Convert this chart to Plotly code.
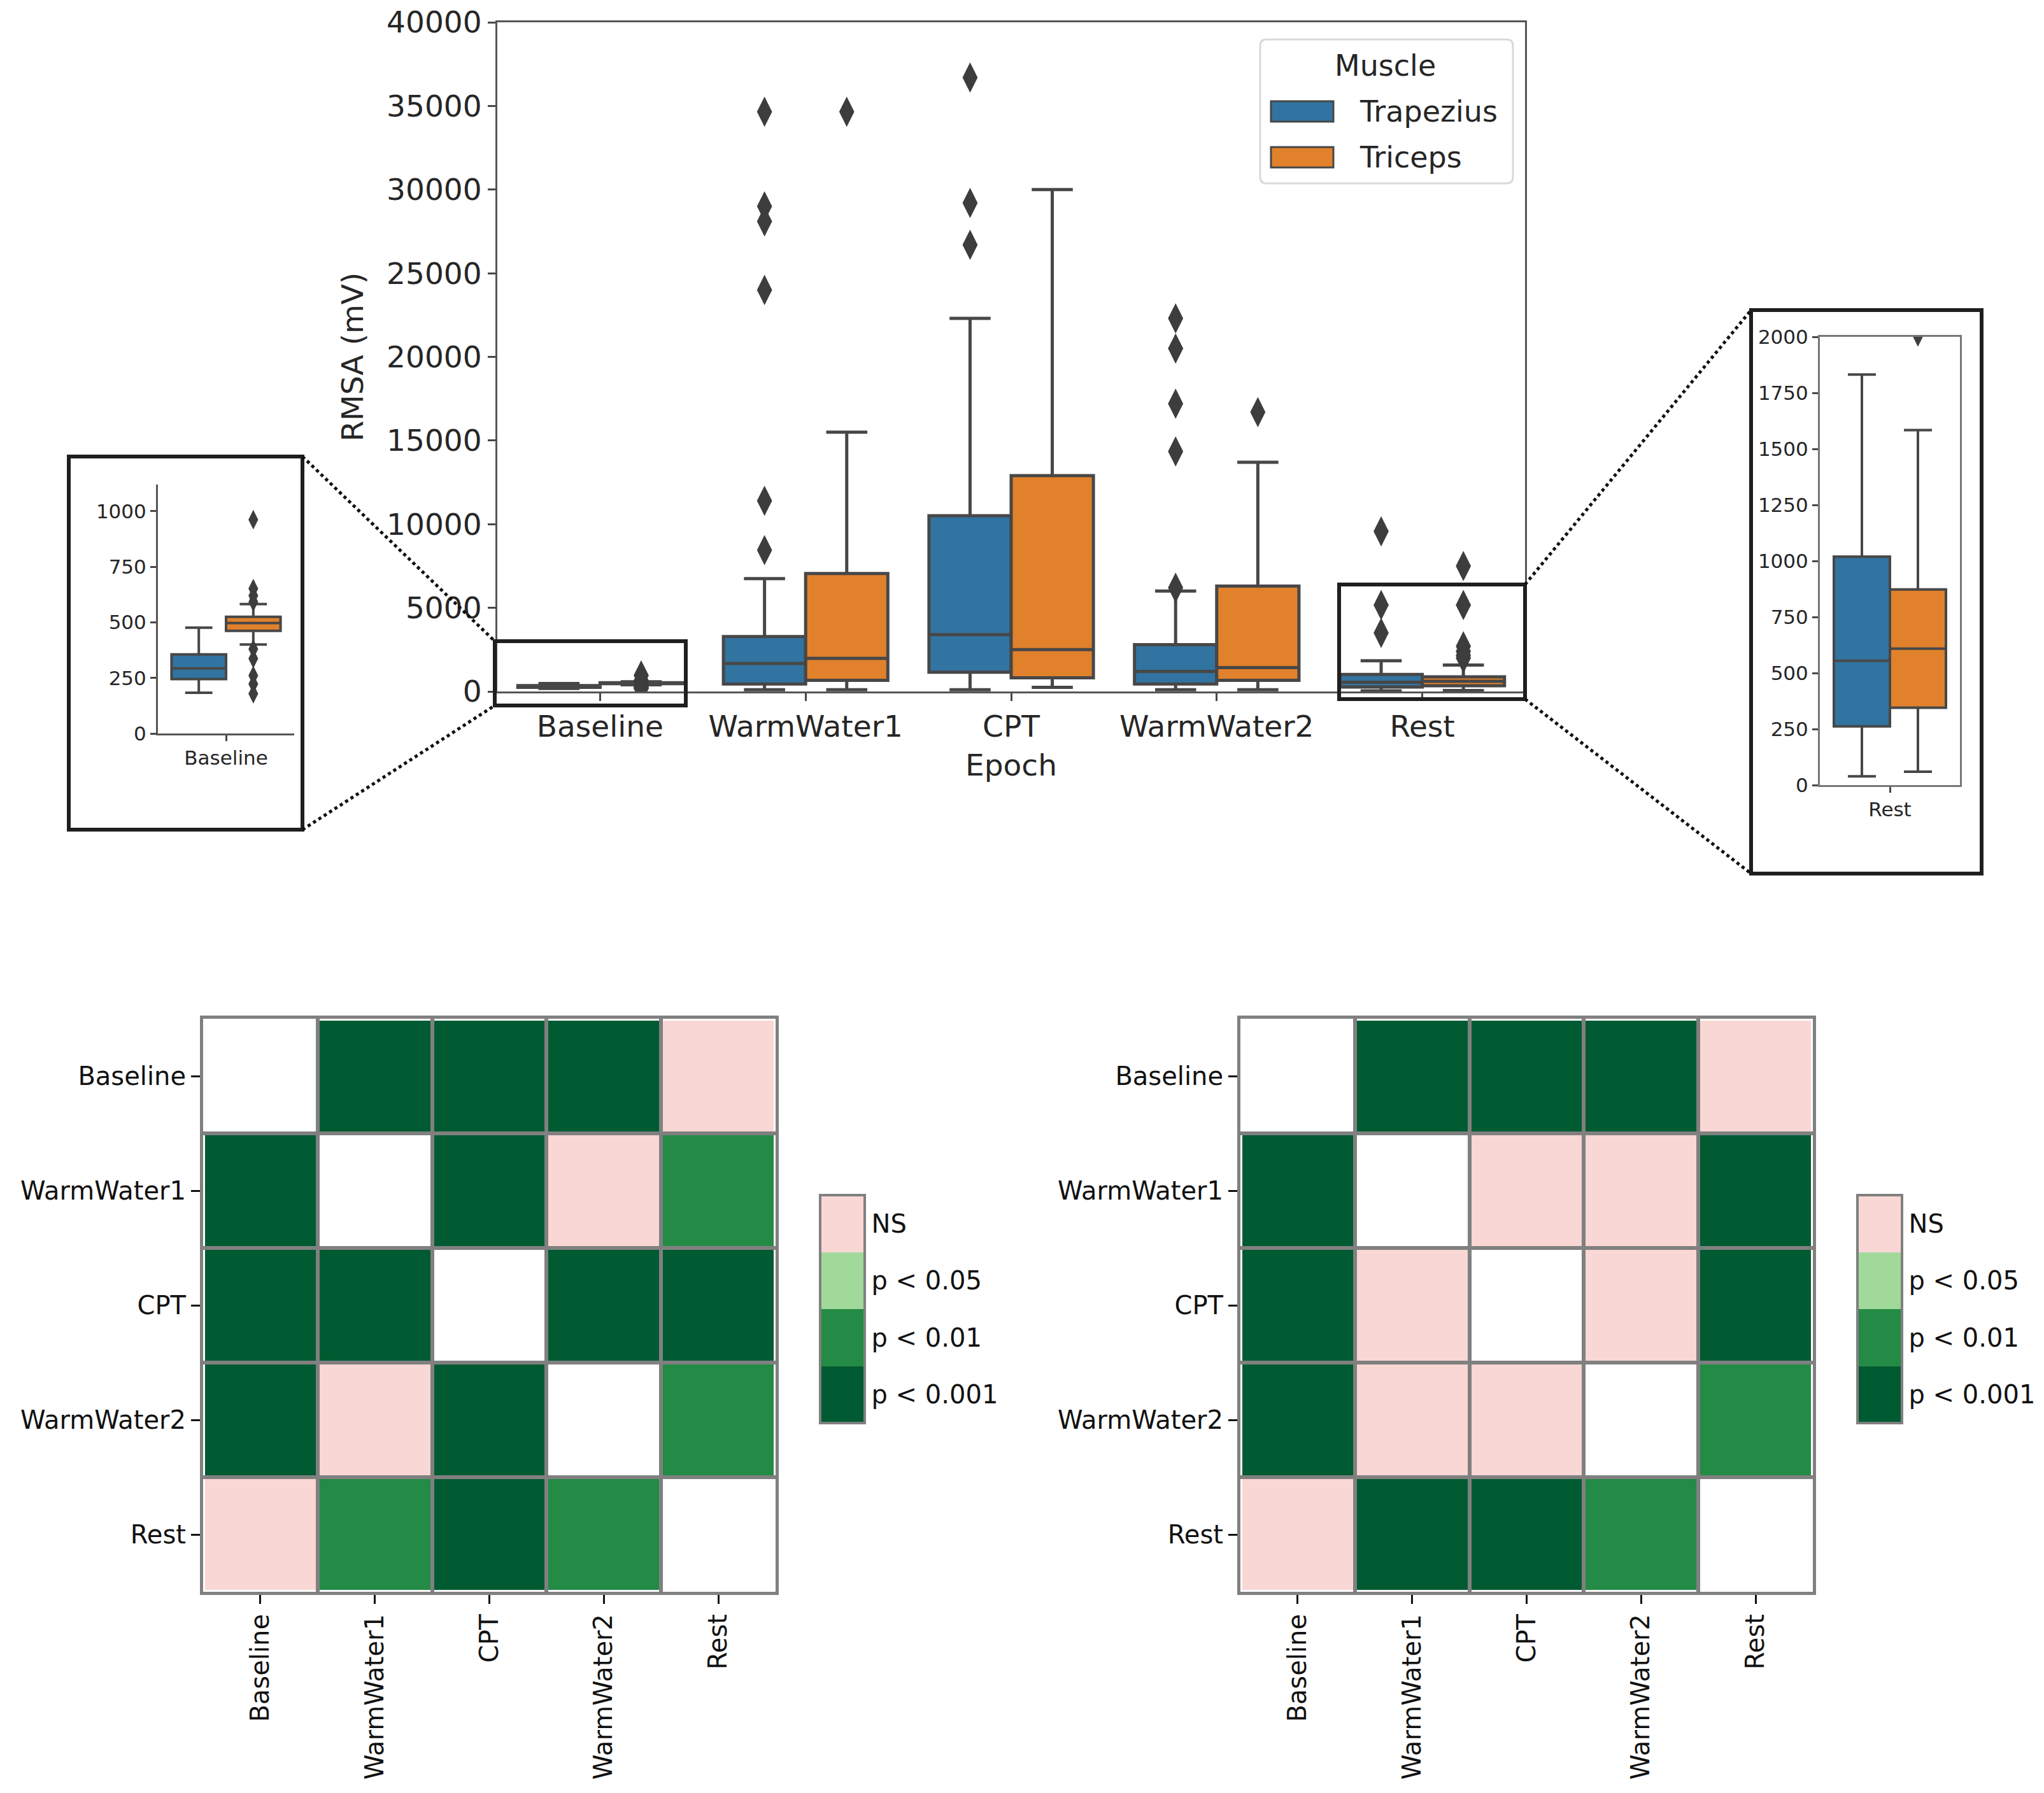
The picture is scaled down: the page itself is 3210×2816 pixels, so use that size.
import plotly.graph_objects as go

W, H = 3210, 2816
FONT = "DejaVu Sans"
TXT = "#262626"

def px(x):
    return x / W

def py(y):
    return 1 - y / H

# ---------------- data ----------------
epochs = ["Baseline", "WarmWater1", "CPT", "WarmWater2", "Rest"]
muscles = ["Trapezius", "Triceps"]

trap_q1 = [245, 450, 1150, 450, 262]
trap_med = [293, 1670, 3400, 1200, 555]
trap_q3 = [356, 3280, 10500, 2800, 1019]
trap_lo = [183, 100, 100, 100, 39]
trap_hi = [476, 6750, 22300, 6000, 1832]
trap_out = [[], [34650, 29000, 28100, 24000, 11400, 8450], [36700, 29200, 26700],
            [22300, 20500, 17200, 14350, 6200], [9570, 5170, 3500]]

tri_q1 = [462, 670, 820, 670, 345]
tri_med = [497, 1980, 2500, 1430, 609]
tri_q3 = [525, 7050, 12900, 6300, 873]
tri_lo = [400, 100, 250, 100, 60]
tri_hi = [582, 15500, 30000, 13700, 1584]
tri_out = [[962, 652, 620, 592, 380, 337, 261, 223, 179], [34650], [], [16700],
           [7500, 5170, 2700, 2400, 2150, 2000]]

main_yticks = [0, 5000, 10000, 15000, 20000, 25000, 30000, 35000, 40000]
base_yticks = [0, 250, 500, 750, 1000]
rest_yticks = [0, 250, 500, 750, 1000, 1250, 1500, 1750, 2000]

# significance codes: 0 = p<0.001, 1 = p<0.01, 2 = p<0.05, 3 = NS, None = diagonal
sig_labels = ["p < 0.001", "p < 0.01", "p < 0.05", "NS"]
sig_colors = ["#005a32", "#238b45", "#a1d99b", "#f9d7d4"]
sig_left = [[None, 0, 0, 0, 3],
            [0, None, 0, 3, 1],
            [0, 0, None, 0, 0],
            [0, 3, 0, None, 1],
            [3, 1, 0, 1, None]]
sig_right = [[None, 0, 0, 0, 3],
             [0, None, 3, 3, 0],
             [0, 3, None, 3, 0],
             [0, 3, 3, None, 1],
             [3, 0, 0, 1, None]]

# ---------------- styles ----------------
colors = ["#3274a1", "#e1812c"]
LINE = "#474747"
OUT = "#3d3d3d"
offsets = [-0.2, 0.2]

fig = go.Figure()

stats = [
    (trap_q1, trap_med, trap_q3, trap_lo, trap_hi, trap_out),
    (tri_q1, tri_med, tri_q3, tri_lo, tri_hi, tri_out),
]


def add_boxes(xa, ya, idxs, lw, msize, xcenter=None):
    for h, (q1, med, q3, lo, hi, outs) in enumerate(stats):
        xs = [(i if xcenter is None else xcenter) + offsets[h] for i in idxs]
        fig.add_trace(go.Box(
            x=xs, q1=[q1[i] for i in idxs], median=[med[i] for i in idxs],
            q3=[q3[i] for i in idxs], lowerfence=[lo[i] for i in idxs],
            upperfence=[hi[i] for i in idxs],
            width=0.4, whiskerwidth=0.5, boxpoints=False,
            fillcolor=colors[h], line=dict(color=LINE, width=lw),
            name=muscles[h], showlegend=False, xaxis=xa, yaxis=ya,
        ))
        ox, oy = [], []
        for i in idxs:
            for v in outs[i]:
                ox.append((i if xcenter is None else xcenter) + offsets[h])
                oy.append(v)
        fig.add_trace(go.Scatter(
            x=ox, y=oy, mode="markers",
            marker=dict(symbol="diamond-tall", size=msize, color=OUT, line=dict(width=0)),
            showlegend=False, xaxis=xa, yaxis=ya,
        ))


add_boxes("x", "y", list(range(5)), 5, 34)
add_boxes("x2", "y2", [0], 4, 22, xcenter=0)
add_boxes("x3", "y3", [4], 4, 22, xcenter=0)

# heatmaps
nb = len(sig_labels)
cscale = []
for k, c in enumerate(sig_colors):
    cscale.append([k / nb, c])
    cscale.append([(k + 1) / nb, c])

for m, (mat, xa, ya, cbx) in enumerate([(sig_left, "x4", "y4", 1288), (sig_right, "x5", "y5", 2917)]):
    fig.add_trace(go.Heatmap(
        z=mat, x=list(range(5)), y=list(range(5)),
        zmin=-0.5, zmax=nb - 0.5, colorscale=cscale, xgap=6, ygap=6,
        xaxis=xa, yaxis=ya, hoverongaps=False,
        colorbar=dict(
            x=px(cbx), xanchor="left", xref="paper", y=py(2056), yanchor="middle",
            thickness=70, thicknessmode="pixels", len=358, lenmode="pixels",
            xpad=0, ypad=0, outlinewidth=4, outlinecolor="#808080",
            tickvals=list(range(nb)), ticktext=sig_labels, ticks="",
            tickfont=dict(family=FONT, size=40, color="#111111"),
        ),
    ))

axis_common = dict(showgrid=False, zeroline=False, ticks="outside", automargin=False,
                   tickfont=dict(family=FONT, color=TXT))

layout = dict(
    width=W, height=H, autosize=False, margin=dict(l=0, r=0, t=0, b=0, pad=0, autoexpand=False),
    paper_bgcolor="white", plot_bgcolor="white", showlegend=False,
    font=dict(family=FONT, color=TXT),
)

layout["xaxis"] = dict(axis_common, domain=[px(781), px(2395)], range=[-0.5, 4.5], anchor="y",
                       tickvals=list(range(5)), ticktext=epochs, ticklen=12, tickwidth=3,
                       tickcolor=LINE, showline=True, mirror=True, linecolor="#555555", linewidth=3,
                       tickfont=dict(family=FONT, size=47, color=TXT),
                       title=dict(text="Epoch", font=dict(family=FONT, size=47, color=TXT), standoff=18))
layout["yaxis"] = dict(axis_common, domain=[py(1086), py(35)], range=[0, 40000], anchor="x",
                       tickvals=main_yticks, ticktext=[str(v) for v in main_yticks], ticklen=12,
                       tickwidth=3, tickcolor=LINE, showline=True, mirror=True,
                       linecolor="#555555", linewidth=3,
                       tickfont=dict(family=FONT, size=47, color=TXT),
                       title=dict(text="RMSA (mV)", font=dict(family=FONT, size=47, color=TXT), standoff=22))

layout["xaxis2"] = dict(axis_common, domain=[px(248), px(462)], range=[-0.5, 0.5], anchor="y2",
                        tickvals=[0], ticktext=["Baseline"], ticklen=9, tickwidth=3, tickcolor=LINE,
                        showline=True, linecolor="#555555", linewidth=3,
                        tickfont=dict(family=FONT, size=31, color=TXT))
layout["yaxis2"] = dict(axis_common, domain=[py(1152), py(761)], range=[0, 1120], anchor="x2",
                        tickvals=base_yticks, ticktext=[str(v) for v in base_yticks], ticklen=9,
                        tickwidth=3, tickcolor=LINE, showline=True, linecolor="#555555", linewidth=3,
                        tickfont=dict(family=FONT, size=31, color=TXT))

layout["xaxis3"] = dict(axis_common, domain=[px(2858), px(3078)], range=[-0.5, 0.5], anchor="y3",
                        tickvals=[0], ticktext=["Rest"], ticklen=9, tickwidth=3, tickcolor=LINE,
                        showline=True, mirror=True, linecolor="#777777", linewidth=3,
                        tickfont=dict(family=FONT, size=31, color=TXT))
layout["yaxis3"] = dict(axis_common, domain=[py(1233), py(529)], range=[0, 2000], anchor="x3",
                        tickvals=rest_yticks, ticktext=[str(v) for v in rest_yticks], ticklen=9,
                        tickwidth=3, tickcolor=LINE, showline=True, mirror=True,
                        linecolor="#777777", linewidth=3,
                        tickfont=dict(family=FONT, size=31, color=TXT))

bounds = [k + 0.5 for k in range(len(epochs) - 1)]
for n, (x0, x1) in zip((4, 5), [(319, 1218), (1948, 2847)]):
    hx = dict(showgrid=False, zeroline=False, ticks="outside", ticklen=14, tickwidth=3,
              automargin=False,
              tickcolor="#111111", showline=True, mirror=True, linecolor="#808080", linewidth=5,
              tickvals=list(range(5)), ticktext=epochs,
              tickfont=dict(family=FONT, size=40, color="#111111"),
              minor=dict(tickvals=bounds, showgrid=True, gridcolor="#808080", gridwidth=6, ticks=""))
    layout[f"xaxis{n}"] = dict(hx, domain=[px(x0), px(x1)], range=[-0.5, 4.5], anchor=f"y{n}",
                               tickangle=-90)
    layout[f"yaxis{n}"] = dict(hx, domain=[py(2500), py(1600)], range=[4.5, -0.5], anchor=f"x{n}")

shapes = []
# zoom rectangles on main plot and inset frames
for (x0, y0, x1, y1, w) in [(777, 1007, 1077, 1108, 6), (2103, 918, 2395, 1098, 6),
                             (108, 717, 475, 1303, 6), (2750, 487, 3112, 1372, 6)]:
    shapes.append(dict(type="rect", xref="paper", yref="paper", x0=px(x0), x1=px(x1),
                       y0=py(y0), y1=py(y1), line=dict(color="#1f1f1f", width=w)))
# connector dotted lines
for (x0, y0, x1, y1) in [(475, 717, 777, 1007), (475, 1303, 777, 1108),
                         (2395, 918, 2750, 487), (2395, 1098, 2750, 1372)]:
    shapes.append(dict(type="line", xref="paper", yref="paper", x0=px(x0), x1=px(x1),
                       y0=py(y0), y1=py(y1), line=dict(color="#111111", width=5, dash="dot")))

# manual legend
lx0, ly0, lx1, ly1 = 1979, 62, 2376, 288
r = 10
path = (f"M {px(lx0 + r)},{py(ly0)} L {px(lx1 - r)},{py(ly0)} Q {px(lx1)},{py(ly0)} {px(lx1)},{py(ly0 + r)} "
        f"L {px(lx1)},{py(ly1 - r)} Q {px(lx1)},{py(ly1)} {px(lx1 - r)},{py(ly1)} "
        f"L {px(lx0 + r)},{py(ly1)} Q {px(lx0)},{py(ly1)} {px(lx0)},{py(ly1 - r)} "
        f"L {px(lx0)},{py(ly0 + r)} Q {px(lx0)},{py(ly0)} {px(lx0 + r)},{py(ly0)} Z")
shapes.append(dict(type="path", xref="paper", yref="paper", path=path,
                   line=dict(color="#d9d9d9", width=3), fillcolor="rgba(255,255,255,0.85)"))
annotations = [dict(text="Muscle", x=px(2175), y=py(103), xref="paper", yref="paper",
                    showarrow=False, xanchor="center", yanchor="middle",
                    font=dict(family=FONT, size=46, color=TXT))]
for h, yc in enumerate([175, 247]):
    shapes.append(dict(type="rect", xref="paper", yref="paper", x0=px(1996), x1=px(2094),
                       y0=py(yc - 16), y1=py(yc + 16), fillcolor=colors[h],
                       line=dict(color=LINE, width=3)))
    annotations.append(dict(text=muscles[h], x=px(2133), y=py(yc), xref="paper", yref="paper",
                            showarrow=False, xanchor="left", yanchor="middle",
                            font=dict(family=FONT, size=46, color=TXT)))

layout["shapes"] = shapes
layout["annotations"] = annotations
fig.update_layout(**layout)

fig.write_html(
    "out.html",
    config={"displayModeBar": False},
    post_script="document.body.style.margin='0';document.body.style.overflow='hidden';",
)
